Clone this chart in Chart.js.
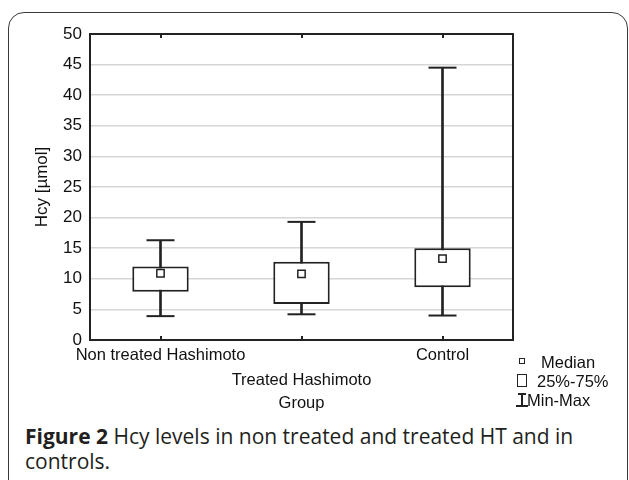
<!DOCTYPE html>
<html>
<head>
<meta charset="utf-8">
<script src="https://cdn.jsdelivr.net/npm/chart.js@4.4.0/dist/chart.umd.min.js"></script>
<style>
  body { margin: 0; background: #fff; width: 629px; height: 480px; overflow: hidden; position: relative; font-family: "Liberation Sans", Arial, sans-serif; }
  #frame { position: absolute; left: 8px; top: 12px; width: 618px; height: 520px; border: 1.5px solid #3a3a3a; border-radius: 16px; }
  #wrap { position: absolute; left: 0; top: 0; width: 629px; height: 420px; }
  .lg { position: absolute; font-size: 16.5px; line-height: 18px; color: #111; white-space: nowrap; }
  .box { position: absolute; border: 1.5px solid #222; background: #fff; }
  .ln { position: absolute; background: #222; }
  #caption { position: absolute; left: 25px; top: 424px; font-family: "Open Sans", sans-serif; font-size: 21px; line-height: 25px; color: #231f20; white-space: nowrap; }
  #caption b { font-weight: 700; }
</style>
</head>
<body>
<div id="frame"></div>
<div id="wrap"><canvas id="boxChart" width="629" height="420"></canvas></div>

<!-- legende -->
<div class="box" style="left:519px;top:358px;width:4px;height:4px;"></div>
<div class="lg" style="left:541px;top:353px;">Median</div>
<div class="box" style="left:517px;top:374px;width:8px;height:11px;"></div>
<div class="lg" style="left:537px;top:372px;">25%-75%</div>
<div class="ln" style="left:518px;top:393px;width:8px;height:2px;"></div>
<div class="ln" style="left:521px;top:393px;width:2px;height:14px;"></div>
<div class="ln" style="left:516px;top:405px;width:12px;height:2px;"></div>
<div class="lg" style="left:527px;top:391px;">Min-Max</div>

<div id="caption"><b>Figure 2</b> Hcy levels in non treated and treated HT and in<br>controls.</div>

<script>
// donnees
var groups = ['Non treated Hashimoto', 'Treated Hashimoto', 'Control'];
var minVals = [3.9, 4.2, 4.0];
var q1Vals = [7.9, 5.9, 8.6];
var medianVals = [10.9, 10.8, 13.3];
var q3Vals = [12.0, 12.8, 15.0];
var maxVals = [16.3, 19.3, 44.5];
var yMin = 0, yMax = 50, yStep = 5;

// etiquettes decalees une sur deux
var xLabels = groups.map(function (g, i) { return i % 2 ? ['', g] : g; });

var ink = '#222';
var fam = '"Liberation Sans", Arial, sans-serif';

// cadre du graphique + petites graduations vers l'interieur
var framePlugin = {
  id: 'frame',
  afterDatasetsDraw: function (chart) {
    var ctx = chart.ctx, a = chart.chartArea, xs = chart.scales.x;
    ctx.save();
    ctx.strokeStyle = ink;
    ctx.lineWidth = 2;
    ctx.strokeRect(a.left, a.top, a.right - a.left, a.bottom - a.top);
    ctx.beginPath();
    xs.ticks.forEach(function (t, i) {
      var px = Math.round(xs.getPixelForTick(i));
      ctx.moveTo(px, a.top); ctx.lineTo(px, a.top + 4);
      ctx.moveTo(px, a.bottom); ctx.lineTo(px, a.bottom - 4);
    });
    ctx.stroke();
    ctx.restore();
  }
};

var boxChart = new Chart(document.getElementById('boxChart').getContext('2d'), {
  data: {
    labels: xLabels,
    datasets: [
      {
        type: 'line', label: 'Median', data: medianVals, showLine: false,
        pointStyle: 'rect', pointRadius: 5.2, borderWidth: 1.5,
        borderColor: ink, backgroundColor: '#fff', order: 0
      },
      {
        type: 'bar', label: '25%-75%',
        data: q1Vals.map(function (v, i) { return [v, q3Vals[i]]; }),
        backgroundColor: '#fff', borderColor: ink, borderWidth: 2, borderSkipped: false,
        barPercentage: 0.4, categoryPercentage: 1, grouped: false, order: 1
      },
      {
        type: 'line', label: 'Max', data: maxVals, showLine: false,
        pointStyle: 'line', pointRadius: 14, borderWidth: 2, borderColor: ink, order: 2
      },
      {
        type: 'line', label: 'Min', data: minVals, showLine: false,
        pointStyle: 'line', pointRadius: 14, borderWidth: 2, borderColor: ink, order: 2
      },
      {
        type: 'bar', label: 'Min-Max',
        data: minVals.map(function (v, i) { return [v, maxVals[i]]; }),
        backgroundColor: ink, borderWidth: 0, barThickness: 2, grouped: false, order: 3
      }
    ]
  },
  options: {
    responsive: false,
    animation: false,
    layout: { padding: { left: 0, right: 116, top: 34, bottom: 0 } },
    plugins: { legend: { display: false }, tooltip: { enabled: false } },
    scales: {
      x: {
        offset: true,
        grid: { display: false, drawTicks: false },
        border: { display: false },
        ticks: {
          autoSkip: false, maxRotation: 0, minRotation: 0, padding: 3, color: '#111',
          font: { family: fam, size: 16.5, lineHeight: 25 / 16.5 }
        },
        title: {
          display: true, text: 'Group', color: '#111', padding: { top: 0, bottom: 7 },
          font: { family: fam, size: 16.5 }
        },
        afterFit: function (s) { s.height = 80; }
      },
      y: {
        min: yMin, max: yMax,
        grid: { color: '#d6d6d6', lineWidth: 1.5, drawTicks: false },
        border: { display: false },
        ticks: {
          stepSize: yStep, padding: 8, color: '#111',
          font: { family: fam, size: 17 }
        },
        title: {
          display: true, text: 'Hcy [µmol]', color: '#111', padding: { top: 32, bottom: 0 },
          font: { family: fam, size: 17 }
        },
        afterFit: function (s) { s.width = 90; }
      }
    }
  },
  plugins: [framePlugin]
});
</script>
</body>
</html>
